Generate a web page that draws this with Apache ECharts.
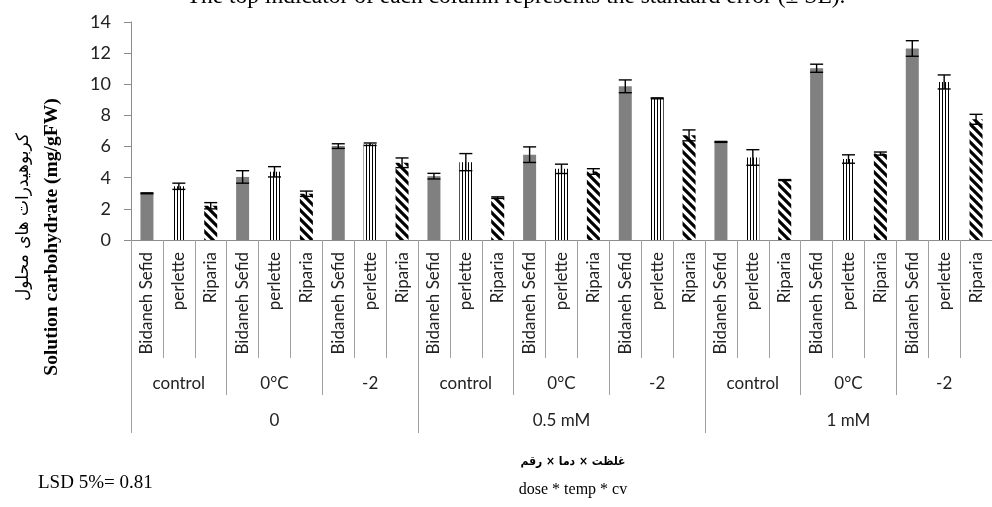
<!DOCTYPE html>
<html><head><meta charset="utf-8">
<script src="https://cdn.jsdelivr.net/npm/echarts@6/dist/echarts.min.js"></script>
<style>html,body{margin:0;padding:0;background:#fff}#c{width:992px;height:507px}</style>
</head><body><div id="c"></div>
<script>
// ---- data ----
const varieties = ['Bidaneh Sefid', 'perlette', 'Riparia'];
const temps = ['control', '0°C', '-2'];
const doses = ['0', '0.5 mM', '1 mM'];
// order: dose(0, 0.5, 1) x temp(control, 0°C, -2)
const bidanehMean = [3.0, 4.05, 6.03, 4.1, 5.48, 9.87, 6.3, 11.03, 12.3];
const bidanehSE   = [0.03, 0.4, 0.15, 0.18, 0.5, 0.41, 0.03, 0.26, 0.5];
const perletteMean = [3.45, 4.38, 6.15, 5.0, 4.57, 9.1, 5.3, 5.2, 10.15];
const perletteSE   = [0.2, 0.33, 0.08, 0.55, 0.3, 0.03, 0.5, 0.27, 0.45];
const ripariaMean = [2.2, 2.97, 4.96, 2.72, 4.4, 6.72, 3.85, 5.55, 7.75];
const ripariaSE   = [0.2, 0.17, 0.31, 0.05, 0.18, 0.35, 0.03, 0.1, 0.32];
const yMin = 0, yMax = 14, yStep = 2;
const titleText = 'The top indicator of each column represents the standard error (± SE).';
const yTitleFa = 'کربوهیدرات های محلول';
const yTitleEn = 'Solution carbohydrate (mg/gFW)';
const xTitleFa = 'غلظت × دما × رقم';
const xTitleEn = 'dose * temp * cv';
const lsdText = 'LSD 5%= 0.81';

// ---- patterns ----
function patVertical() {
  const c = document.createElement('canvas'); c.width = 3; c.height = 3;
  const g = c.getContext('2d');
  g.fillStyle = '#fff'; g.fillRect(0, 0, 3, 3);
  g.fillStyle = '#000'; g.fillRect(0, 0, 1, 3);
  return c;
}
function patDiag() {
  const s = 9;
  const c = document.createElement('canvas'); c.width = s; c.height = s;
  const g = c.getContext('2d');
  g.fillStyle = '#fff'; g.fillRect(0, 0, s, s);
  g.strokeStyle = '#000'; g.lineWidth = 3.2; g.lineCap = 'square';
  g.beginPath();
  g.moveTo(-3, -3); g.lineTo(s + 3, s + 3);
  g.moveTo(-3, s - 3); g.lineTo(3, s + 3);
  g.moveTo(s - 3, -3); g.lineTo(s + 3, 3);
  g.stroke();
  return c;
}
const fills = ['#808080', { image: patVertical(), repeat: 'repeat' }, { image: patDiag(), repeat: 'repeat' }];

// ---- build ----
const means = [bidanehMean, perletteMean, ripariaMean];
const ses = [bidanehSE, perletteSE, ripariaSE];
const cats = [], tempCats = [], barData = [], errData = [];
doses.forEach((d, di) => {
  temps.forEach((t, ti) => {
    tempCats.push(t);
    varieties.forEach((v, vi) => {
      const k = di * 3 + ti;
      const idx = cats.length;
      cats.push(v);
      barData.push({ value: means[vi][k], itemStyle: { color: fills[vi] } });
      errData.push([idx, means[vi][k], ses[vi][k]]);
    });
  });
});

const axisGray = '#a0a0a0';
const labelFont = 'Lato';
const chart = echarts.init(document.getElementById('c'), null, { renderer: 'canvas' });
chart.setOption({
  animation: false,
  backgroundColor: '#fff',
  grid: { left: 131, right: -11, top: 22, bottom: 267, containLabel: false },
  xAxis: [
    {
      type: 'category', data: cats, position: 'bottom',
      axisLine: { show: true, onZero: false, lineStyle: { color: '#8c8c8c', width: 1 } },
      axisTick: { show: true, interval: 0, length: 118, lineStyle: { color: axisGray } },
      axisLabel: { interval: 0, rotate: 90, margin: 12, fontSize: 17, fontFamily: labelFont, color: '#222' }
    },
    {
      type: 'category', data: tempCats, position: 'bottom', offset: 0,
      axisLine: { show: false, onZero: false },
      axisTick: { show: true, interval: 0, length: 155, lineStyle: { color: axisGray } },
      axisLabel: { interval: 0, margin: 135, fontSize: 17, fontFamily: labelFont, color: '#222' }
    },
    {
      type: 'category', data: doses, position: 'bottom', offset: 0,
      axisLine: { show: false, onZero: false },
      axisTick: { show: true, interval: 0, length: 193, lineStyle: { color: axisGray } },
      axisLabel: { interval: 0, margin: 172, fontSize: 17, fontFamily: labelFont, color: '#222' }
    }
  ],
  yAxis: {
    type: 'value', min: yMin, max: yMax, interval: yStep,
    axisLine: { show: true, lineStyle: { color: '#8c8c8c' } },
    axisTick: { show: true, length: 7, lineStyle: { color: '#8c8c8c' } },
    splitLine: { show: false },
    axisLabel: { margin: 20, fontSize: 18, fontFamily: labelFont, color: '#222' }
  },
  series: [
    { type: 'bar', data: barData, barWidth: 13, xAxisIndex: 0 },
    {
      type: 'custom', xAxisIndex: 0, data: errData, encode: { x: 0, y: 1 }, z: 5,
      renderItem: function (params, api) {
        const x = api.value(0), m = api.value(1), s = api.value(2);
        const top = api.coord([x, m + s]);
        const bot = api.coord([x, m - s]);
        const hw = 6.5;
        const st = { stroke: '#000', lineWidth: 1.4 };
        return {
          type: 'group', children: [
            { type: 'line', shape: { x1: top[0], y1: top[1], x2: bot[0], y2: bot[1] }, style: st },
            { type: 'line', shape: { x1: top[0] - hw, y1: top[1], x2: top[0] + hw, y2: top[1] }, style: st },
            { type: 'line', shape: { x1: bot[0] - hw, y1: bot[1], x2: bot[0] + hw, y2: bot[1] }, style: st }
          ]
        };
      }
    }
  ],
  graphic: [
    { type: 'text', x: 516, y: -3, style: { text: titleText, font: '23.5px "Liberation Serif"', fill: '#000', align: 'center', verticalAlign: 'middle' } },
    { type: 'text', x: 24, y: 217, rotation: Math.PI / 2, style: { text: yTitleFa, font: '17px "DejaVu Sans"', fill: '#000', align: 'center', verticalAlign: 'middle' } },
    { type: 'text', x: 52, y: 237, rotation: Math.PI / 2, style: { text: yTitleEn, font: 'bold 19.5px "Liberation Serif"', fill: '#000', align: 'center', verticalAlign: 'middle' } },
    { type: 'text', x: 38, y: 483, style: { text: lsdText, font: '19px "Liberation Serif"', fill: '#000', align: 'left', verticalAlign: 'middle' } },
    { type: 'text', x: 573, y: 462, style: { text: xTitleFa, font: 'bold 12px "DejaVu Sans Condensed", "DejaVu Sans"', fill: '#000', align: 'center', verticalAlign: 'middle' } },
    { type: 'text', x: 573, y: 490, style: { text: xTitleEn, font: '16px "Liberation Serif"', fill: '#000', align: 'center', verticalAlign: 'middle' } }
  ]
});
</script>
</body></html>
